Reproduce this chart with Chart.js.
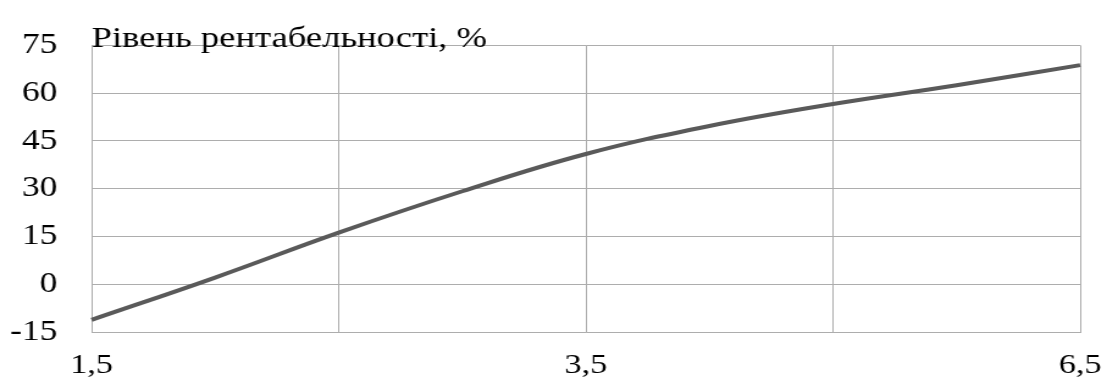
<!DOCTYPE html>
<html lang="uk">
  <head>
    <meta charset="UTF-8" />
    <title>Рівень рентабельності</title>
    <script src="https://cdn.jsdelivr.net/npm/chart.js"></script>
    <style>
      body { margin: 0; background: #fff; }
      #rent-chart { display: block; }
    </style>
  </head>
  <body>
    <!-- the lettering in the original is a bit wide, so the canvas is drawn
         narrower and stretched to the full width by its inline style -->
    <canvas id="rent-chart" width="907" height="385" style="width: 1107px; height: 385px"></canvas>

    <script>
      // categories on the x axis (only some of them carry a label)
      const xLabels = ['1,5', '', '', '', '3,5', '', '', '', '6,5'];
      // profitability level, %
      const rentValues = [-11.2, 2.1, 16.2, 29.2, 40.9, 49.7, 56.6, 62.5, 68.8];
      const yTitle = 'Рівень рентабельності, %';

      const fontFamily = '"Liberation Serif", "Times New Roman", serif';
      const fontSize = 29;
      const gridColor = '#adadad';

      // the axis title sits on top of the plot, at its top left corner
      const titlePlugin = {
        id: 'yTitle',
        afterDraw(chart) {
          const ctx = chart.ctx;
          const area = chart.chartArea;
          ctx.save();
          ctx.font = '30px ' + fontFamily;
          ctx.fillStyle = '#000';
          ctx.textAlign = 'left';
          ctx.textBaseline = 'alphabetic';
          ctx.fillText(yTitle, area.left, area.top + 2);
          ctx.restore();
        }
      };

      new Chart(document.getElementById('rent-chart'), {
        type: 'line',
        data: {
          labels: xLabels,
          datasets: [{
            data: rentValues,
            borderColor: '#5a5a5a',
            borderWidth: 4,
            pointRadius: 0,
            tension: 0.4,
            fill: false
          }]
        },
        options: {
          responsive: false,
          animation: false,
          layout: { padding: { top: 42, right: 22, left: 0, bottom: 0 } },
          plugins: {
            legend: { display: false },
            tooltip: { enabled: false }
          },
          scales: {
            x: {
              offset: false,
              border: { color: gridColor },
              grid: {
                drawTicks: false,
                color: (c) => (c.index % 2 === 0 ? gridColor : 'rgba(0,0,0,0)')
              },
              ticks: {
                autoSkip: false,
                maxRotation: 0,
                padding: 17,
                color: '#000',
                font: { family: fontFamily, size: 28 }
              },
              afterFit: (scale) => {
                scale.height = 53;
                // the last label may hang over the plot edge, as in the original
                scale.paddingLeft = 0;
                scale.paddingRight = 0;
              }
            },
            y: {
              min: -15,
              max: 75,
              border: { color: gridColor },
              grid: { drawTicks: false, color: gridColor },
              ticks: {
                stepSize: 15,
                padding: 28,
                color: '#000',
                font: { family: fontFamily, size: fontSize }
              },
              afterFit: (scale) => { scale.width = 75; }
            }
          }
        },
        plugins: [titlePlugin]
      });
    </script>
  </body>
</html>
